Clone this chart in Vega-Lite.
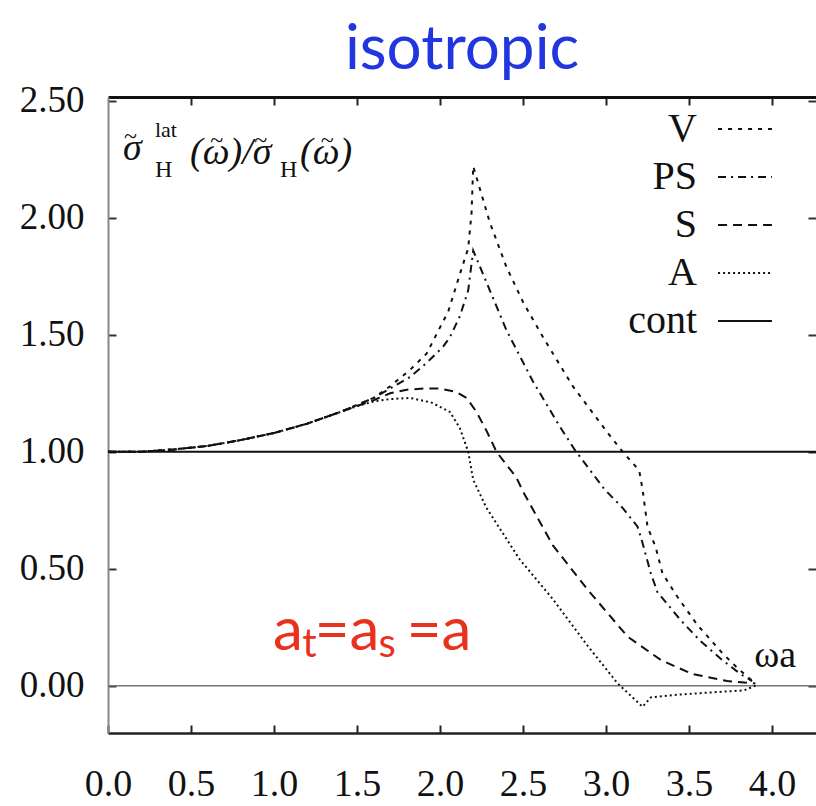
{
  "$schema": "https://vega.github.io/schema/vega-lite/v6.json",
  "autosize": {"type": "none"},
  "padding": {"left": 108, "top": 97, "right": 0, "bottom": 73},
  "width": 708,
  "height": 636,
  "background": "white",
  "config": {"view": {"stroke": null}, "font": "Liberation Serif"},
  "title": {"text": "isotropic", "font": "Lato", "fontSize": 62, "fontWeight": "normal", "color": "#2236e0", "anchor": "middle", "offset": 0},
  "datasets": {
    "curves": [
      {"series": "cont", "w": 0, "r": 1.0}, {"series": "cont", "w": 4.265, "r": 1.0},
      {"series": "V", "w": 0, "r": 1.0}, {"series": "V", "w": 0.2, "r": 1.0}, {"series": "V", "w": 0.4, "r": 1.01}, {"series": "V", "w": 0.6, "r": 1.025}, {"series": "V", "w": 0.8, "r": 1.05}, {"series": "V", "w": 1.0, "r": 1.08}, {"series": "V", "w": 1.2, "r": 1.12}, {"series": "V", "w": 1.4, "r": 1.17}, {"series": "V", "w": 1.6, "r": 1.23}, {"series": "V", "w": 1.7, "r": 1.28}, {"series": "V", "w": 1.82, "r": 1.35}, {"series": "V", "w": 1.92, "r": 1.42}, {"series": "V", "w": 1.97, "r": 1.49}, {"series": "V", "w": 2.05, "r": 1.6}, {"series": "V", "w": 2.12, "r": 1.76}, {"series": "V", "w": 2.17, "r": 1.87}, {"series": "V", "w": 2.19, "r": 2.02}, {"series": "V", "w": 2.2, "r": 2.22}, {"series": "V", "w": 2.3, "r": 1.98}, {"series": "V", "w": 2.4, "r": 1.79}, {"series": "V", "w": 2.5, "r": 1.64}, {"series": "V", "w": 2.62, "r": 1.49}, {"series": "V", "w": 2.8, "r": 1.28}, {"series": "V", "w": 3.0, "r": 1.09}, {"series": "V", "w": 3.1, "r": 1.0}, {"series": "V", "w": 3.2, "r": 0.92}, {"series": "V", "w": 3.22, "r": 0.84}, {"series": "V", "w": 3.25, "r": 0.68}, {"series": "V", "w": 3.3, "r": 0.59}, {"series": "V", "w": 3.34, "r": 0.48}, {"series": "V", "w": 3.43, "r": 0.38}, {"series": "V", "w": 3.55, "r": 0.26}, {"series": "V", "w": 3.7, "r": 0.14}, {"series": "V", "w": 3.8, "r": 0.07}, {"series": "V", "w": 3.9, "r": 0.01},
      {"series": "PS", "w": 0, "r": 1.0}, {"series": "PS", "w": 0.2, "r": 1.0}, {"series": "PS", "w": 0.4, "r": 1.01}, {"series": "PS", "w": 0.6, "r": 1.025}, {"series": "PS", "w": 0.8, "r": 1.05}, {"series": "PS", "w": 1.0, "r": 1.08}, {"series": "PS", "w": 1.2, "r": 1.12}, {"series": "PS", "w": 1.4, "r": 1.17}, {"series": "PS", "w": 1.6, "r": 1.23}, {"series": "PS", "w": 1.7, "r": 1.27}, {"series": "PS", "w": 1.82, "r": 1.32}, {"series": "PS", "w": 1.92, "r": 1.38}, {"series": "PS", "w": 2.02, "r": 1.45}, {"series": "PS", "w": 2.06, "r": 1.49}, {"series": "PS", "w": 2.12, "r": 1.58}, {"series": "PS", "w": 2.17, "r": 1.69}, {"series": "PS", "w": 2.2, "r": 1.86}, {"series": "PS", "w": 2.3, "r": 1.69}, {"series": "PS", "w": 2.4, "r": 1.52}, {"series": "PS", "w": 2.56, "r": 1.3}, {"series": "PS", "w": 2.72, "r": 1.11}, {"series": "PS", "w": 2.81, "r": 1.01}, {"series": "PS", "w": 2.99, "r": 0.84}, {"series": "PS", "w": 3.1, "r": 0.76}, {"series": "PS", "w": 3.19, "r": 0.68}, {"series": "PS", "w": 3.22, "r": 0.61}, {"series": "PS", "w": 3.27, "r": 0.48}, {"series": "PS", "w": 3.31, "r": 0.4}, {"series": "PS", "w": 3.45, "r": 0.28}, {"series": "PS", "w": 3.57, "r": 0.19}, {"series": "PS", "w": 3.7, "r": 0.11}, {"series": "PS", "w": 3.81, "r": 0.05}, {"series": "PS", "w": 3.88, "r": 0.02},
      {"series": "S", "w": 0, "r": 1.0}, {"series": "S", "w": 0.2, "r": 1.0}, {"series": "S", "w": 0.4, "r": 1.01}, {"series": "S", "w": 0.6, "r": 1.025}, {"series": "S", "w": 0.8, "r": 1.05}, {"series": "S", "w": 1.0, "r": 1.08}, {"series": "S", "w": 1.2, "r": 1.12}, {"series": "S", "w": 1.4, "r": 1.17}, {"series": "S", "w": 1.6, "r": 1.22}, {"series": "S", "w": 1.7, "r": 1.25}, {"series": "S", "w": 1.8, "r": 1.265}, {"series": "S", "w": 1.9, "r": 1.27}, {"series": "S", "w": 2.0, "r": 1.27}, {"series": "S", "w": 2.1, "r": 1.255}, {"series": "S", "w": 2.16, "r": 1.23}, {"series": "S", "w": 2.22, "r": 1.17}, {"series": "S", "w": 2.28, "r": 1.09}, {"series": "S", "w": 2.34, "r": 1.0}, {"series": "S", "w": 2.46, "r": 0.89}, {"series": "S", "w": 2.5, "r": 0.83}, {"series": "S", "w": 2.68, "r": 0.6}, {"series": "S", "w": 2.89, "r": 0.41}, {"series": "S", "w": 3.07, "r": 0.26}, {"series": "S", "w": 3.13, "r": 0.21}, {"series": "S", "w": 3.33, "r": 0.11}, {"series": "S", "w": 3.52, "r": 0.05}, {"series": "S", "w": 3.73, "r": 0.02}, {"series": "S", "w": 3.9, "r": 0.01},
      {"series": "A", "w": 0, "r": 1.0}, {"series": "A", "w": 0.2, "r": 1.0}, {"series": "A", "w": 0.4, "r": 1.01}, {"series": "A", "w": 0.6, "r": 1.025}, {"series": "A", "w": 0.8, "r": 1.05}, {"series": "A", "w": 1.0, "r": 1.08}, {"series": "A", "w": 1.2, "r": 1.12}, {"series": "A", "w": 1.4, "r": 1.17}, {"series": "A", "w": 1.5, "r": 1.195}, {"series": "A", "w": 1.6, "r": 1.215}, {"series": "A", "w": 1.7, "r": 1.225}, {"series": "A", "w": 1.82, "r": 1.23}, {"series": "A", "w": 1.95, "r": 1.21}, {"series": "A", "w": 2.06, "r": 1.17}, {"series": "A", "w": 2.12, "r": 1.1}, {"series": "A", "w": 2.17, "r": 1.0}, {"series": "A", "w": 2.2, "r": 0.88}, {"series": "A", "w": 2.28, "r": 0.76}, {"series": "A", "w": 2.48, "r": 0.54}, {"series": "A", "w": 2.68, "r": 0.37}, {"series": "A", "w": 2.89, "r": 0.17}, {"series": "A", "w": 3.07, "r": 0.01}, {"series": "A", "w": 3.22, "r": -0.09}, {"series": "A", "w": 3.27, "r": -0.05}, {"series": "A", "w": 3.4, "r": -0.04}, {"series": "A", "w": 3.6, "r": -0.03}, {"series": "A", "w": 3.83, "r": -0.02}, {"series": "A", "w": 3.9, "r": 0.0}
    ],
    "ylabBig": [
      {"t": "σ", "w": 0.09, "r": 2.247},
      {"t": "(ω)/σ", "w": 0.494, "r": 2.23},
      {"t": "(ω)", "w": 1.157, "r": 2.23}
    ],
    "ylabTilde": [
      {"t": "~", "w": 0.135, "r": 2.345},
      {"t": "~", "w": 0.655, "r": 2.33},
      {"t": "~", "w": 0.92, "r": 2.33},
      {"t": "~", "w": 1.32, "r": 2.33}
    ],
    "ylabSup": [
      {"t": "lat", "w": 0.283, "r": 2.344}
    ],
    "ylabSub": [
      {"t": "H", "w": 0.283, "r": 2.174},
      {"t": "H", "w": 1.036, "r": 2.174}
    ],
    "redBig": [
      {"t": "a", "w": 0.994, "r": 0.153},
      {"t": "=a", "w": 1.245, "r": 0.153},
      {"t": "=a", "w": 1.8, "r": 0.153}
    ],
    "redSub": [
      {"t": "t", "w": 1.17, "r": 0.123},
      {"t": "s", "w": 1.63, "r": 0.123}
    ],
    "wa": [
      {"t": "ωa", "w": 3.893, "r": 0.08}
    ]
  },
  "resolve": {"axis": {"x": "independent", "y": "independent"}},
  "layer": [
    {
      "data": {"name": "wa"},
      "mark": {"type": "rule", "color": "#777", "strokeWidth": 1.5},
      "encoding": {
        "y": {"datum": 0, "type": "quantitative", "scale": {"domain": [-0.202, 2.516], "nice": false, "zero": false}, "axis": null}
      }
    },
    {
      "data": {"name": "curves"},
      "mark": {"type": "line", "strokeWidth": 2, "color": "#111", "clip": true},
      "encoding": {
        "x": {"field": "w", "type": "quantitative", "scale": {"domain": [0, 4.265], "nice": false, "zero": false},
          "axis": {"orient": "bottom", "values": [0, 0.5, 1, 1.5, 2, 2.5, 3, 3.5, 4], "format": ".1f", "title": null, "grid": false, "labelFont": "Liberation Serif", "labelFontSize": 38, "labelColor": "#111", "labelPadding": 40, "labelFlush": false, "labelOverlap": false, "tickSize": -8, "tickWidth": 2, "tickColor": "#222", "domainColor": "#222", "domainWidth": 2.5}},
        "y": {"field": "r", "type": "quantitative", "scale": {"domain": [-0.202, 2.516], "nice": false, "zero": false},
          "axis": {"orient": "left", "values": [0, 0.5, 1, 1.5, 2, 2.5], "format": ".2f", "title": null, "grid": false, "labelFont": "Liberation Serif", "labelFontSize": 37, "labelColor": "#111", "labelPadding": 32, "labelFlush": false, "labelOverlap": false, "tickSize": -8, "tickWidth": 2, "tickColor": "#333", "domainColor": "#888", "domainWidth": 2}},
        "strokeDash": {"field": "series", "type": "nominal",
          "scale": {"domain": ["V", "PS", "S", "A", "cont"], "range": [[4, 6], [8, 5, 2, 5], [9, 6], [2, 3], [1, 0]]},
          "legend": {"title": null, "orient": "none", "legendX": 609, "legendY": 4, "symbolType": "stroke", "symbolSize": 2900, "symbolStrokeWidth": 2, "symbolStrokeColor": "#111", "labelFont": "Liberation Serif", "labelFontSize": 40, "labelColor": "#111", "labelAlign": "right", "labelOffset": -76, "labelLimit": 0, "rowPadding": 0, "padding": 0}}
      }
    },
    {
      "data": {"name": "curves"},
      "mark": {"type": "point", "opacity": 0},
      "encoding": {
        "x": {"field": "w", "type": "quantitative", "scale": {"domain": [0, 4.265], "nice": false, "zero": false},
          "axis": {"orient": "top", "values": [0.5, 1, 1.5, 2, 2.5, 3, 3.5, 4], "labels": false, "title": null, "grid": false, "tickSize": -8, "tickWidth": 2, "tickColor": "#222", "domainColor": "#111", "domainWidth": 3}},
        "y": {"field": "r", "type": "quantitative", "scale": {"domain": [-0.202, 2.516], "nice": false, "zero": false},
          "axis": {"orient": "right", "values": [0, 0.5, 1, 1.5, 2, 2.5], "labels": false, "title": null, "grid": false, "domain": false, "tickSize": -8, "tickWidth": 2, "tickColor": "#333"}}
      }
    },
    {
      "data": {"name": "ylabBig"},
      "mark": {"type": "text", "font": "Liberation Serif", "fontSize": 38, "fontStyle": "italic", "align": "left", "baseline": "alphabetic", "color": "#111"},
      "encoding": {
        "x": {"field": "w", "type": "quantitative", "scale": {"domain": [0, 4.265], "nice": false, "zero": false}, "axis": null},
        "y": {"field": "r", "type": "quantitative", "scale": {"domain": [-0.202, 2.516], "nice": false, "zero": false}, "axis": null},
        "text": {"field": "t"}
      }
    },
    {
      "data": {"name": "ylabTilde"},
      "mark": {"type": "text", "font": "Liberation Serif", "fontSize": 24, "align": "center", "baseline": "middle", "color": "#111"},
      "encoding": {
        "x": {"field": "w", "type": "quantitative", "scale": {"domain": [0, 4.265], "nice": false, "zero": false}, "axis": null},
        "y": {"field": "r", "type": "quantitative", "scale": {"domain": [-0.202, 2.516], "nice": false, "zero": false}, "axis": null},
        "text": {"field": "t"}
      }
    },
    {
      "data": {"name": "ylabSup"},
      "mark": {"type": "text", "font": "Liberation Serif", "fontSize": 22, "align": "left", "baseline": "alphabetic", "color": "#111"},
      "encoding": {
        "x": {"field": "w", "type": "quantitative", "scale": {"domain": [0, 4.265], "nice": false, "zero": false}, "axis": null},
        "y": {"field": "r", "type": "quantitative", "scale": {"domain": [-0.202, 2.516], "nice": false, "zero": false}, "axis": null},
        "text": {"field": "t"}
      }
    },
    {
      "data": {"name": "ylabSub"},
      "mark": {"type": "text", "font": "Liberation Serif", "fontSize": 24, "align": "left", "baseline": "alphabetic", "color": "#111"},
      "encoding": {
        "x": {"field": "w", "type": "quantitative", "scale": {"domain": [0, 4.265], "nice": false, "zero": false}, "axis": null},
        "y": {"field": "r", "type": "quantitative", "scale": {"domain": [-0.202, 2.516], "nice": false, "zero": false}, "axis": null},
        "text": {"field": "t"}
      }
    },
    {
      "data": {"name": "redBig"},
      "mark": {"type": "text", "font": "Lato", "fontSize": 60, "align": "left", "baseline": "alphabetic", "color": "#e8321e"},
      "encoding": {
        "x": {"field": "w", "type": "quantitative", "scale": {"domain": [0, 4.265], "nice": false, "zero": false}, "axis": null},
        "y": {"field": "r", "type": "quantitative", "scale": {"domain": [-0.202, 2.516], "nice": false, "zero": false}, "axis": null},
        "text": {"field": "t"}
      }
    },
    {
      "data": {"name": "redSub"},
      "mark": {"type": "text", "font": "Lato", "fontSize": 40, "align": "left", "baseline": "alphabetic", "color": "#e8321e"},
      "encoding": {
        "x": {"field": "w", "type": "quantitative", "scale": {"domain": [0, 4.265], "nice": false, "zero": false}, "axis": null},
        "y": {"field": "r", "type": "quantitative", "scale": {"domain": [-0.202, 2.516], "nice": false, "zero": false}, "axis": null},
        "text": {"field": "t"}
      }
    },
    {
      "data": {"name": "wa"},
      "mark": {"type": "text", "font": "Liberation Serif", "fontSize": 38, "align": "left", "baseline": "alphabetic", "color": "#111"},
      "encoding": {
        "x": {"field": "w", "type": "quantitative", "scale": {"domain": [0, 4.265], "nice": false, "zero": false}, "axis": null},
        "y": {"field": "r", "type": "quantitative", "scale": {"domain": [-0.202, 2.516], "nice": false, "zero": false}, "axis": null},
        "text": {"field": "t"}
      }
    }
  ]
}
